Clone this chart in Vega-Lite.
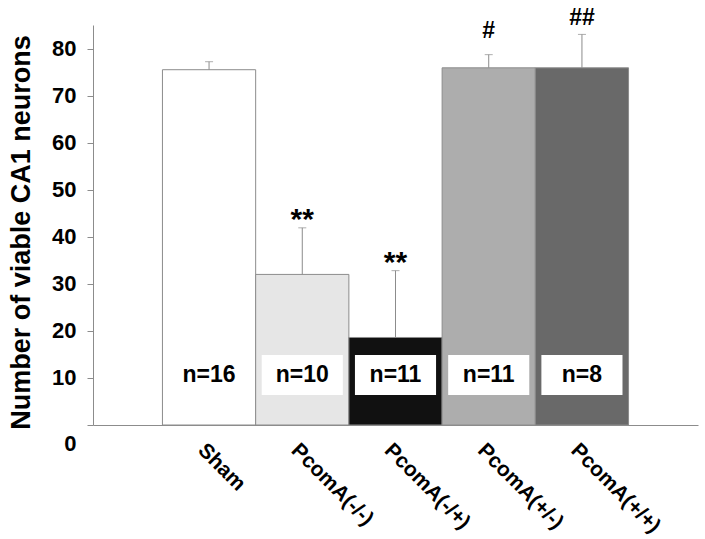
{
  "$schema": "https://vega.github.io/schema/vega-lite/v6.json",
  "width": 605,
  "height": 400,
  "autosize": {"type": "none"},
  "padding": {"left": 93, "top": 25, "right": 7, "bottom": 114},
  "background": "white",
  "config": {
    "view": {"stroke": null},
    "font": "Liberation Sans",
    "axis": {"domainColor": "#8c8c8c", "tickColor": "#8c8c8c", "grid": false, "labelColor": "black", "titleColor": "black"}
  },
  "data": {
    "values": [
      {"group": "Sham", "mean": 75.5, "err": 77.2, "n": "n=16", "ann": "", "annY": null},
      {"group": "PcomA(-/-)", "mean": 32.0, "err": 41.9, "n": "n=10", "ann": "**", "annY": 41.6},
      {"group": "PcomA(-/+)", "mean": 18.6, "err": 32.8, "n": "n=11", "ann": "**", "annY": 32.5},
      {"group": "PcomA(+/-)", "mean": 75.9, "err": 78.7, "n": "n=11", "ann": "#", "annY": 82.3},
      {"group": "PcomA(+/+)", "mean": 75.9, "err": 83.0, "n": "n=8", "ann": "##", "annY": 84.9}
    ]
  },
  "encoding": {
    "x": {
      "field": "group",
      "type": "nominal",
      "sort": null,
      "scale": {"paddingInner": 0, "paddingOuter": 0.745},
      "axis": {
        "title": null,
        "ticks": false,
        "labelAngle": 45,
        "labelAlign": "left",
        "labelBaseline": "top",
        "labelPadding": 14,
        "labelFontSize": 21,
        "labelFontWeight": "bold",
        "labelFont": "Liberation Sans"
      }
    }
  },
  "layer": [
    {
      "mark": {"type": "bar", "stroke": "#8c8c8c", "strokeWidth": 1},
      "encoding": {
        "y": {
          "field": "mean",
          "type": "quantitative",
          "scale": {"domain": [0, 85], "nice": false},
          "axis": {
            "title": "Number of viable CA1 neurons",
            "titleFontSize": 27,
            "titleFontWeight": "bold",
            "titleFont": "Liberation Sans",
            "titleAngle": -90,
            "titleBaseline": "middle",
            "titleAlign": "center",
            "titleX": -72,
            "titleY": 207,
            "values": [0, 10, 20, 30, 40, 50, 60, 70, 80],
            "tickSize": 6,
            "labelPadding": 11,
            "labelFontSize": 22,
            "labelFontWeight": "bold",
            "labelFont": "Liberation Sans",
            "labelOffset": {"condition": {"test": "datum.value === 0", "value": 18}, "value": 0}
          }
        },
        "color": {
          "field": "group",
          "type": "nominal",
          "sort": null,
          "scale": {
            "domain": ["Sham", "PcomA(-/-)", "PcomA(-/+)", "PcomA(+/-)", "PcomA(+/+)"],
            "range": ["#ffffff", "#e6e6e6", "#111111", "#adadad", "#696969"]
          },
          "legend": null
        }
      }
    },
    {
      "mark": {"type": "rule", "color": "#8c8c8c", "strokeWidth": 1},
      "encoding": {
        "y": {"field": "mean", "type": "quantitative"},
        "y2": {"field": "err"}
      }
    },
    {
      "mark": {"type": "tick", "color": "#8c8c8c", "size": 8, "thickness": 1},
      "encoding": {
        "y": {"field": "err", "type": "quantitative"}
      }
    },
    {
      "mark": {"type": "bar", "fill": "white", "width": {"band": 0.87}},
      "encoding": {
        "y": {"datum": 6.4, "type": "quantitative"},
        "y2": {"datum": 14.9}
      }
    },
    {
      "mark": {"type": "text", "fontWeight": "bold", "fontSize": 23, "baseline": "middle", "align": "center", "color": "black"},
      "encoding": {
        "y": {"datum": 10.6, "type": "quantitative"},
        "text": {"field": "n"}
      }
    },
    {
      "transform": [{"filter": "datum.ann === '**'"}],
      "mark": {"type": "text", "fontWeight": "bold", "fontSize": 30, "baseline": "alphabetic", "align": "center", "color": "black"},
      "encoding": {
        "y": {"field": "annY", "type": "quantitative"},
        "text": {"field": "ann"}
      }
    },
    {
      "transform": [{"filter": "datum.ann === '#' || datum.ann === '##'"}],
      "mark": {"type": "text", "fontWeight": "bold", "fontSize": 23, "baseline": "alphabetic", "align": "center", "color": "black"},
      "encoding": {
        "y": {"field": "annY", "type": "quantitative"},
        "text": {"field": "ann"}
      }
    }
  ]
}
